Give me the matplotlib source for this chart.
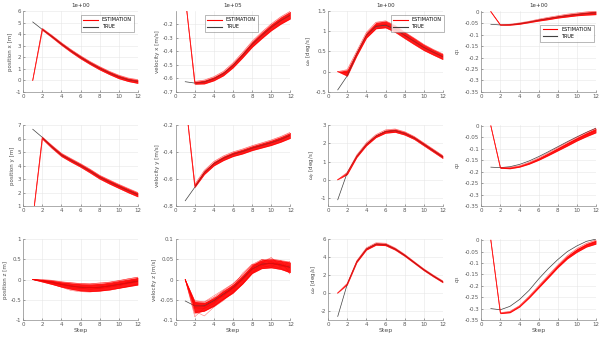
import matplotlib.pyplot as plt

steps = list(range(1, 13))

# ---- row 1 ----
pos_x_true = [5.05, 4.4, 3.8, 3.15, 2.55, 2.0, 1.5, 1.05, 0.65, 0.3, 0.05, -0.1]
pos_x_est = [0, 4.42, 3.8, 3.15, 2.55, 2.0, 1.5, 1.05, 0.65, 0.3, 0.05, -0.1]
pos_x_spread = [0, 0.08, 0.1, 0.11, 0.12, 0.13, 0.13, 0.14, 0.14, 0.15, 0.15, 0.16]

vel_x_true = [-0.625, -0.635, -0.627, -0.603, -0.565, -0.505, -0.43, -0.35, -0.285, -0.225, -0.175, -0.135]
vel_x_est = [0, -0.633, -0.627, -0.603, -0.565, -0.505, -0.43, -0.35, -0.285, -0.225, -0.175, -0.135]
vel_x_spread = [0, 0.01, 0.014, 0.015, 0.016, 0.018, 0.02, 0.022, 0.024, 0.025, 0.027, 0.028]

om_x_true = [-0.45, -0.1, 0.45, 0.9, 1.12, 1.15, 1.05, 0.9, 0.75, 0.6, 0.48, 0.37]
om_x_est = [0, -0.03, 0.45, 0.9, 1.14, 1.17, 1.06, 0.9, 0.75, 0.6, 0.48, 0.37]
om_x_spread = [0, 0.08, 0.06, 0.07, 0.08, 0.085, 0.085, 0.08, 0.08, 0.075, 0.07, 0.07]

q1_true = [-0.055, -0.058, -0.057, -0.052, -0.045, -0.037, -0.03, -0.023, -0.017, -0.012, -0.008, -0.005]
q1_est = [0, -0.058, -0.057, -0.052, -0.045, -0.037, -0.03, -0.023, -0.017, -0.012, -0.008, -0.005]
q1_spread = [0, 0.001, 0.002, 0.003, 0.003, 0.004, 0.005, 0.005, 0.006, 0.006, 0.007, 0.008]

# ---- row 2 ----
pos_y_true = [6.7, 6.1, 5.4, 4.8, 4.4, 4.02, 3.6, 3.15, 2.8, 2.47, 2.15, 1.85]
pos_y_est = [0, 6.05, 5.4, 4.8, 4.4, 4.02, 3.6, 3.15, 2.8, 2.47, 2.15, 1.85]
pos_y_spread = [0, 0.08, 0.11, 0.12, 0.13, 0.13, 0.14, 0.14, 0.15, 0.15, 0.16, 0.16]

vel_y_true = [-0.76, -0.66, -0.55, -0.485, -0.445, -0.415, -0.395, -0.37, -0.35, -0.33, -0.305, -0.275]
vel_y_est = [0, -0.65, -0.55, -0.485, -0.445, -0.415, -0.395, -0.37, -0.35, -0.33, -0.305, -0.275]
vel_y_spread = [0, 0.012, 0.015, 0.016, 0.017, 0.017, 0.018, 0.018, 0.019, 0.02, 0.021, 0.022]

om_y_true = [-1.1, 0.4, 1.3, 1.95, 2.4, 2.65, 2.7, 2.55, 2.3, 1.95, 1.6, 1.25]
om_y_est = [0, 0.35, 1.3, 1.95, 2.4, 2.65, 2.7, 2.55, 2.3, 1.95, 1.6, 1.25]
om_y_spread = [0, 0.06, 0.07, 0.08, 0.08, 0.09, 0.09, 0.09, 0.08, 0.08, 0.08, 0.08]

q2_true = [-0.18, -0.182, -0.178, -0.168, -0.153, -0.134, -0.113, -0.091, -0.069, -0.048, -0.028, -0.01]
q2_est = [0, -0.183, -0.184, -0.177, -0.163, -0.145, -0.124, -0.102, -0.08, -0.058, -0.038, -0.02]
q2_spread = [0, 0.002, 0.003, 0.003, 0.004, 0.005, 0.006, 0.007, 0.008, 0.008, 0.009, 0.01]

# ---- row 3 ----
pos_z_true = [0, -0.03, -0.07, -0.12, -0.16, -0.19, -0.2, -0.19, -0.16, -0.12, -0.08, -0.04]
pos_z_est = [0, -0.03, -0.07, -0.12, -0.16, -0.19, -0.2, -0.19, -0.16, -0.12, -0.08, -0.04]
pos_z_spread = [0, 0.03, 0.05, 0.065, 0.08, 0.09, 0.095, 0.095, 0.095, 0.095, 0.095, 0.095]
pos_z_runs = [
    [0, -0.02, -0.05, -0.10, -0.14, -0.18, -0.20, -0.18, -0.17, -0.12, -0.08, -0.03],
    [0, -0.04, -0.09, -0.15, -0.21, -0.23, -0.22, -0.22, -0.18, -0.15, -0.10, -0.06],
    [0, -0.01, -0.04, -0.08, -0.11, -0.14, -0.16, -0.15, -0.12, -0.08, -0.04, 0.02],
    [0, -0.05, -0.11, -0.19, -0.27, -0.30, -0.31, -0.28, -0.27, -0.22, -0.17, -0.11],
    [0, -0.02, -0.06, -0.11, -0.17, -0.22, -0.19, -0.21, -0.15, -0.13, -0.05, -0.02],
    [0, -0.03, -0.03, -0.06, -0.08, -0.10, -0.11, -0.08, -0.07, -0.03, 0.02, 0.06],
    [0, -0.03, -0.08, -0.13, -0.15, -0.20, -0.25, -0.20, -0.14, -0.10, -0.10, -0.05],
    [0, -0.02, -0.07, -0.12, -0.19, -0.17, -0.18, -0.23, -0.19, -0.16, -0.06, 0.00],
]

vel_z_true = [-0.053, -0.065, -0.065, -0.052, -0.036, -0.02, 0.002, 0.026, 0.038, 0.04, 0.036, 0.03]
vel_z_est = [0, -0.068, -0.067, -0.055, -0.038, -0.022, 0.0, 0.026, 0.038, 0.04, 0.036, 0.03]
vel_z_spread = [0, 0.014, 0.011, 0.011, 0.011, 0.011, 0.011, 0.011, 0.011, 0.011, 0.011, 0.013]
vel_z_runs = [
    [0, -0.065, -0.062, -0.052, -0.038, -0.022, 0.002, 0.025, 0.036, 0.040, 0.035, 0.030],
    [0, -0.085, -0.078, -0.065, -0.048, -0.035, -0.010, 0.018, 0.030, 0.035, 0.028, 0.015],
    [0, -0.052, -0.055, -0.040, -0.025, -0.010, 0.012, 0.035, 0.046, 0.050, 0.045, 0.042],
    [0, -0.070, -0.072, -0.058, -0.030, -0.028, 0.005, 0.030, 0.042, 0.038, 0.040, 0.025],
    [0, -0.060, -0.066, -0.045, -0.042, -0.015, -0.002, 0.022, 0.033, 0.045, 0.032, 0.035],
    [0, -0.092, -0.070, -0.060, -0.036, -0.020, 0.008, 0.028, 0.050, 0.042, 0.038, 0.020],
    [0, -0.078, -0.090, -0.068, -0.052, -0.030, -0.012, 0.014, 0.040, 0.055, 0.030, 0.045],
    [0, -0.058, -0.060, -0.050, -0.028, -0.018, 0.016, 0.038, 0.035, 0.030, 0.048, 0.012],
]

om_z_true = [-2.6, 1.0, 3.5, 4.9, 5.45, 5.4, 4.9, 4.2, 3.4, 2.6, 1.9, 1.25]
om_z_est = [0, 1.0, 3.5, 4.9, 5.45, 5.4, 4.9, 4.2, 3.4, 2.6, 1.9, 1.25]
om_z_spread = [0, 0.08, 0.1, 0.12, 0.13, 0.13, 0.12, 0.11, 0.1, 0.1, 0.1, 0.1]

q3_true = [-0.3, -0.305, -0.29, -0.26, -0.22, -0.17, -0.125, -0.085, -0.05, -0.025, -0.005, 0.005]
q3_est = [0, -0.32, -0.315, -0.29, -0.25, -0.205, -0.16, -0.115, -0.075, -0.045, -0.022, -0.008]
q3_spread = [0, 0.002, 0.003, 0.003, 0.004, 0.005, 0.006, 0.006, 0.007, 0.008, 0.008, 0.009]

titles = ["1e+00", "1e+05", "1e+00", "1e+00"]
q_ticks = [-0.35, -0.3, -0.25, -0.2, -0.15, -0.1, -0.05, 0]

panels = [
    # (true, est, spread, runs, ylabel, ylim, yticks)
    (pos_x_true, pos_x_est, pos_x_spread, None, "position x [m]", (-1, 6), [-1, 0, 1, 2, 3, 4, 5, 6]),
    (vel_x_true, vel_x_est, vel_x_spread, None, "velocity x [m/s]", (-0.7, -0.105), [-0.7, -0.6, -0.5, -0.4, -0.3, -0.2]),
    (om_x_true, om_x_est, om_x_spread, None, r"$\omega_x$ [deg/s]", (-0.5, 1.5), [-0.5, 0, 0.5, 1, 1.5]),
    (q1_true, q1_est, q1_spread, None, r"$q_1$", (-0.35, 0.003), q_ticks),
    (pos_y_true, pos_y_est, pos_y_spread, None, "position y [m]", (1, 7), [1, 2, 3, 4, 5, 6, 7]),
    (vel_y_true, vel_y_est, vel_y_spread, None, "velocity y [m/s]", (-0.8, -0.2), [-0.8, -0.6, -0.4, -0.2]),
    (om_y_true, om_y_est, om_y_spread, None, r"$\omega_y$ [deg/s]", (-1.45, 3), [-1, 0, 1, 2, 3]),
    (q2_true, q2_est, q2_spread, None, r"$q_2$", (-0.35, 0.003), q_ticks),
    (pos_z_true, pos_z_est, pos_z_spread, pos_z_runs, "position z [m]", (-1, 1), [-1, -0.5, 0, 0.5, 1]),
    (vel_z_true, vel_z_est, vel_z_spread, vel_z_runs, "velocity z [m/s]", (-0.1, 0.1), [-0.1, -0.05, 0, 0.05, 0.1]),
    (om_z_true, om_z_est, om_z_spread, None, r"$\omega_z$ [deg/s]", (-3, 6), [-2, 0, 2, 4, 6]),
    (q3_true, q3_est, q3_spread, None, r"$q_3$", (-0.35, 0.005), q_ticks),
]

# legend placement for the top row (loc, anchor in axes fraction)
legend_pos = {
    0: ("upper right", (0.99, 0.98)),
    1: ("upper right", (0.74, 0.98)),
    2: ("upper right", (1.03, 0.98)),
    3: ("upper right", (1.0, 0.86)),
}

fig = plt.figure(figsize=(6.1, 3.43), dpi=100)
lefts = [0.038, 0.288, 0.538, 0.789]
bottoms = [0.732, 0.399, 0.067]
w, h = 0.188, 0.236

for i, (true, est, spread, runs, ylabel, ylim, yticks) in enumerate(panels):
    r, c = divmod(i, 4)
    ax = fig.add_axes([lefts[c], bottoms[r], w, h])
    lo = [e - s for e, s in zip(est, spread)]
    hi = [e + s for e, s in zip(est, spread)]
    ax.fill_between(steps, lo, hi, color="red", lw=0, alpha=0.9)
    ax.plot(steps, lo, color="red", lw=0.5, alpha=0.6)
    ax.plot(steps, hi, color="red", lw=0.5, alpha=0.6)
    est_line, = ax.plot(steps, est, color="red", lw=0.6, alpha=0.7)
    if runs:
        for run in runs:
            ax.plot(steps, run, color="red", lw=0.35, alpha=0.6)
    true_line, = ax.plot(steps, true, color="0.25", lw=0.5, zorder=1.5)
    ax.set_xlim(0, 12)
    ax.set_ylim(*ylim)
    ax.set_xticks(range(0, 13, 2))
    ax.set_yticks(yticks)
    ax.set_yticklabels([f"{v:g}" for v in yticks])
    ax.grid(True, color="0.9", lw=0.4)
    ax.set_axisbelow(True)
    for s in ["top", "right"]:
        ax.spines[s].set_visible(False)
    for s in ["left", "bottom"]:
        ax.spines[s].set_color("0.55")
        ax.spines[s].set_linewidth(0.5)
    ax.tick_params(labelsize=4, colors="0.35", length=1.5, width=0.4, direction="in", pad=1.5)
    ax.set_ylabel(ylabel, fontsize=4, color="0.3", labelpad=2)
    if r == 0:
        ax.set_title(titles[c], fontsize=4, color="0.2", pad=3)
        loc, anchor = legend_pos[c]
        lg = ax.legend([est_line, true_line], ["ESTIMATION", "TRUE"], loc=loc, bbox_to_anchor=anchor,
                       fontsize=3.5, frameon=True, fancybox=False, edgecolor="0.4", handlelength=3,
                       borderpad=0.5, labelspacing=0.4)
        lg.get_frame().set_linewidth(0.4)
        for hl in lg.get_lines():
            hl.set_linewidth(0.8)
            hl.set_alpha(1)
    if r == 2:
        ax.set_xlabel("Step", fontsize=4.5, color="0.3", labelpad=1)

fig.savefig("out.png", dpi=100)
